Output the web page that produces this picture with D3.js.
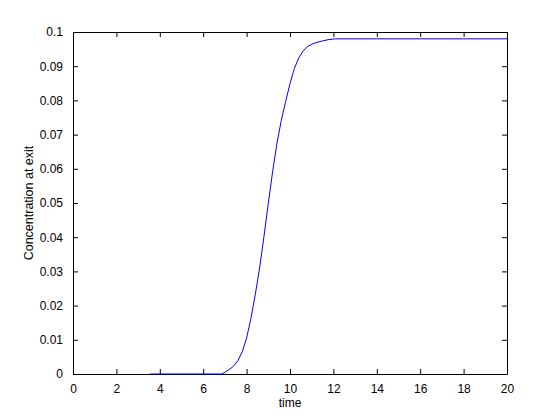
<!DOCTYPE html>
<html>
<head>
<meta charset="utf-8">
<script src="https://cdn.jsdelivr.net/npm/d3@7"></script>
<style>
  body { margin: 0; background: #fff; }
  svg { display: block; }
  text { font-family: "Liberation Sans", Arial, sans-serif; font-size: 12px; fill: #000; }
</style>
</head>
<body>
<svg id="chart" width="560" height="420"></svg>
<script>
// time values (x) and concentration at exit (y)
const timeValues = [3.55, 4, 5, 6, 6.5, 6.85, 7.0, 7.2, 7.4, 7.6, 7.8, 8.0, 8.2, 8.4, 8.6,
  8.8, 9.0, 9.2, 9.4, 9.6, 9.8, 10.0, 10.2, 10.4, 10.6, 10.8, 11.0, 11.2, 11.5, 11.8,
  12.1, 13, 14, 15, 16, 17, 18, 19, 20];
const concValues = [0, 0, 0, 0, 0, 0, 0.0005, 0.0013, 0.0023, 0.0039, 0.0065, 0.0105, 0.0163, 0.0232, 0.031,
  0.0402, 0.0499, 0.0592, 0.0675, 0.0742, 0.0797, 0.0849, 0.0893, 0.0924, 0.0944, 0.0957, 0.0964, 0.0969, 0.0974, 0.0978,
  0.098, 0.098, 0.098, 0.098, 0.098, 0.098, 0.098, 0.098, 0.098];
const xTicks = [0, 2, 4, 6, 8, 10, 12, 14, 16, 18, 20];
const yTicks = [0, 0.01, 0.02, 0.03, 0.04, 0.05, 0.06, 0.07, 0.08, 0.09, 0.1];

const data = timeValues.map((t, i) => ({ t, c: concValues[i] }));

const svg = d3.select("#chart");
const margin = { top: 32, right: 53, bottom: 46, left: 73 };
const width = 560, height = 420;
const TICK = 5;

const x = d3.scaleLinear().domain([0, 20]).range([margin.left, width - margin.right]);
const y = d3.scaleLinear().domain([0, 0.1]).range([height - margin.bottom, margin.top]);

const fmtY = d => d === 0 ? "0" : d3.format("~g")(d);

// bottom axis (ticks pointing inward)
svg.append("g")
  .attr("transform", `translate(0,${y(0)})`)
  .call(d3.axisBottom(x).tickValues(xTicks).tickSizeInner(-TICK).tickSizeOuter(0).tickPadding(10).tickFormat(d3.format("d")));

// top axis
svg.append("g")
  .attr("transform", `translate(0,${y(0.1)})`)
  .call(d3.axisTop(x).tickValues(xTicks).tickSizeInner(-TICK).tickSizeOuter(0).tickFormat(""));

// left axis
svg.append("g")
  .attr("transform", `translate(${x(0)},0)`)
  .call(d3.axisLeft(y).tickValues(yTicks).tickSizeInner(-TICK).tickSizeOuter(0).tickPadding(10).tickFormat(fmtY));

// right axis
svg.append("g")
  .attr("transform", `translate(${x(20)},0)`)
  .call(d3.axisRight(y).tickValues(yTicks).tickSizeInner(-TICK).tickSizeOuter(0).tickFormat(""));

svg.selectAll(".domain").attr("stroke", "#000").attr("stroke-width", 1);
svg.selectAll(".tick line").attr("stroke", "#000");
svg.selectAll(".tick text").style("font-family", "'Liberation Sans', Arial, sans-serif").style("font-size", "12px").attr("fill", "#000");

// curve
const line = d3.line()
  .x(d => x(d.t))
  .y(d => y(d.c));

svg.append("path")
  .datum(data)
  .attr("fill", "none")
  .attr("stroke", "#0000ff")
  .attr("stroke-width", 1)
  .attr("d", line);

// axis labels
svg.append("text")
  .attr("x", (x(0) + x(20)) / 2)
  .attr("y", 407)
  .attr("text-anchor", "middle")
  .text("time");

svg.append("text")
  .attr("transform", `translate(33,${(y(0) + y(0.1)) / 2}) rotate(-90)`)
  .attr("text-anchor", "middle")
  .style("font-size", "12.5px")
  .text("Concentration at exit");
</script>
</body>
</html>
